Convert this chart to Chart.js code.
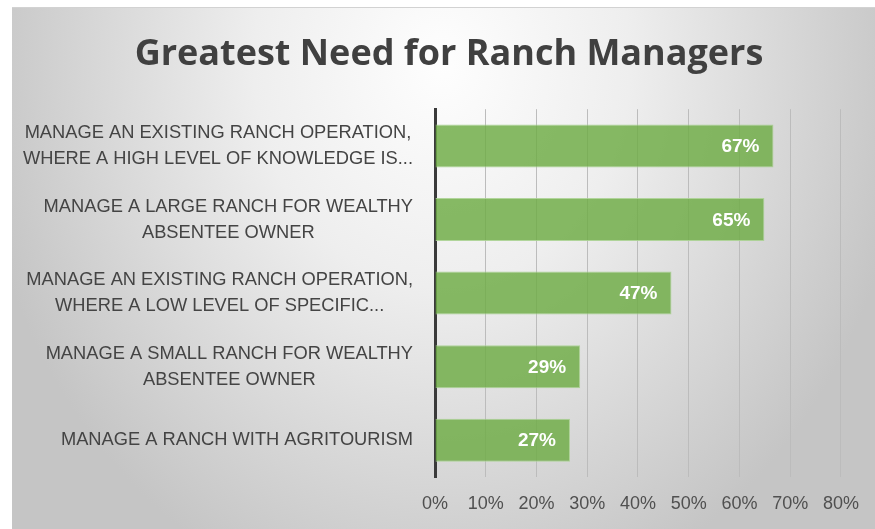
<!DOCTYPE html>
<html>
<head>
<meta charset="utf-8">
<script src="https://cdn.jsdelivr.net/npm/chart.js@4"></script>
<style>
  html, body { margin: 0; padding: 0; background: #fff; }
  #wrap { position: relative; width: 875px; height: 529px; overflow: hidden; }
  #bg {
    position: absolute; left: 12px; top: 7px; right: 0; bottom: 0;
    border-top: 1px solid #d2d2d2;
    background: radial-gradient(ellipse 470px 560px at 430px 55px, #fefefe 0%, #eeeeee 40%, #c5c5c5 100%);
  }
  #chart { position: absolute; left: 0; top: 0; }
</style>
</head>
<body>
<div id="wrap">
  <div id="bg"></div>
  <canvas id="chart" width="875" height="529"></canvas>
</div>
<script>
// categories, one array of lines per bar (top to bottom)
const categories = [
  ["MANAGE AN EXISTING RANCH OPERATION,", "WHERE A HIGH LEVEL OF KNOWLEDGE IS..."],
  ["MANAGE A LARGE RANCH FOR WEALTHY", "ABSENTEE OWNER"],
  ["MANAGE AN EXISTING RANCH OPERATION,", "WHERE A LOW LEVEL OF SPECIFIC..."],
  ["MANAGE A SMALL RANCH FOR WEALTHY", "ABSENTEE OWNER"],
  ["MANAGE A RANCH WITH AGRITOURISM"]
];
// share of respondents, percent
const needValues = [66.7, 64.9, 46.6, 28.6, 26.6];
const xTicks = [0, 10, 20, 30, 40, 50, 60, 70, 80];

const labelFont = '"Liberation Sans", Arial, sans-serif';

// draws the category labels: block right aligned to the axis, lines centred in the block
const categoryLabels = {
  id: 'categoryLabels',
  afterDraw(chart) {
    const ctx = chart.ctx;
    const yScale = chart.scales.y;
    const right = chart.chartArea.left - 22;
    ctx.save();
    ctx.font = '18.3px ' + labelFont;
    ctx.fillStyle = '#444444';
    ctx.textAlign = 'center';
    ctx.textBaseline = 'middle';
    categories.forEach((lines, i) => {
      const y = yScale.getPixelForTick(i);
      let widest = 0;
      lines.forEach(l => { widest = Math.max(widest, ctx.measureText(l).width); });
      const cx = right - widest / 2;
      const lh = 26;
      lines.forEach((l, j) => {
        ctx.fillText(l, cx, y + (j - (lines.length - 1) / 2) * lh);
      });
    });
    ctx.restore();
  }
};

// white value labels inside the bar end
const valueLabels = {
  id: 'valueLabels',
  afterDatasetsDraw(chart) {
    const ctx = chart.ctx;
    const meta = chart.getDatasetMeta(0);
    ctx.save();
    ctx.font = 'bold 19px ' + labelFont;
    ctx.fillStyle = '#ffffff';
    ctx.textAlign = 'right';
    ctx.textBaseline = 'middle';
    meta.data.forEach((bar, i) => {
      ctx.fillText(Math.round(needValues[i]) + '%', bar.x - 14, bar.y + 1);
    });
    ctx.restore();
  }
};

new Chart(document.getElementById('chart'), {
  type: 'bar',
  data: {
    labels: categories.map(c => c.join(' ')),
    datasets: [{
      label: 'Greatest Need',
      data: needValues,
      backgroundColor: 'rgba(112, 173, 71, 0.84)',
      borderColor: 'rgba(170, 210, 145, 0.9)',
      borderWidth: 1,
      barPercentage: 0.585,
      categoryPercentage: 1
    }]
  },
  options: {
    indexAxis: 'y',
    responsive: false,
    animation: false,
    layout: { padding: { left: 56, right: 33, top: 0, bottom: 0 } },
    plugins: {
      legend: { display: false },
      tooltip: { enabled: false },
      title: {
        display: true,
        text: 'Greatest Need for Ranch Managers',
        color: '#404040',
        font: { family: '"Open Sans", sans-serif', size: 36, weight: 'bold', lineHeight: 1.2 },
        padding: { top: 33, bottom: 33 }
      }
    },
    scales: {
      x: {
        min: 0,
        max: 80,
        afterBuildTicks: s => { s.ticks = xTicks.map(v => ({ value: v })); },
        afterFit: s => { s.height = 52; },
        ticks: {
          callback: v => v + '%',
          color: '#505050',
          padding: 16,
          font: { family: labelFont, size: 18 }
        },
        grid: {
          drawTicks: false,
          color: c => (c.tick && c.tick.value === 0) ? 'rgba(0,0,0,0)' : '#bcbcbc',
          lineWidth: 1
        },
        border: { display: false }
      },
      y: {
        afterFit: s => { s.width = 379; },
        ticks: { display: false },
        grid: { display: false },
        border: { display: true, color: '#3a3a3a', width: 3 }
      }
    }
  },
  plugins: [categoryLabels, valueLabels]
});
</script>
</body>
</html>
